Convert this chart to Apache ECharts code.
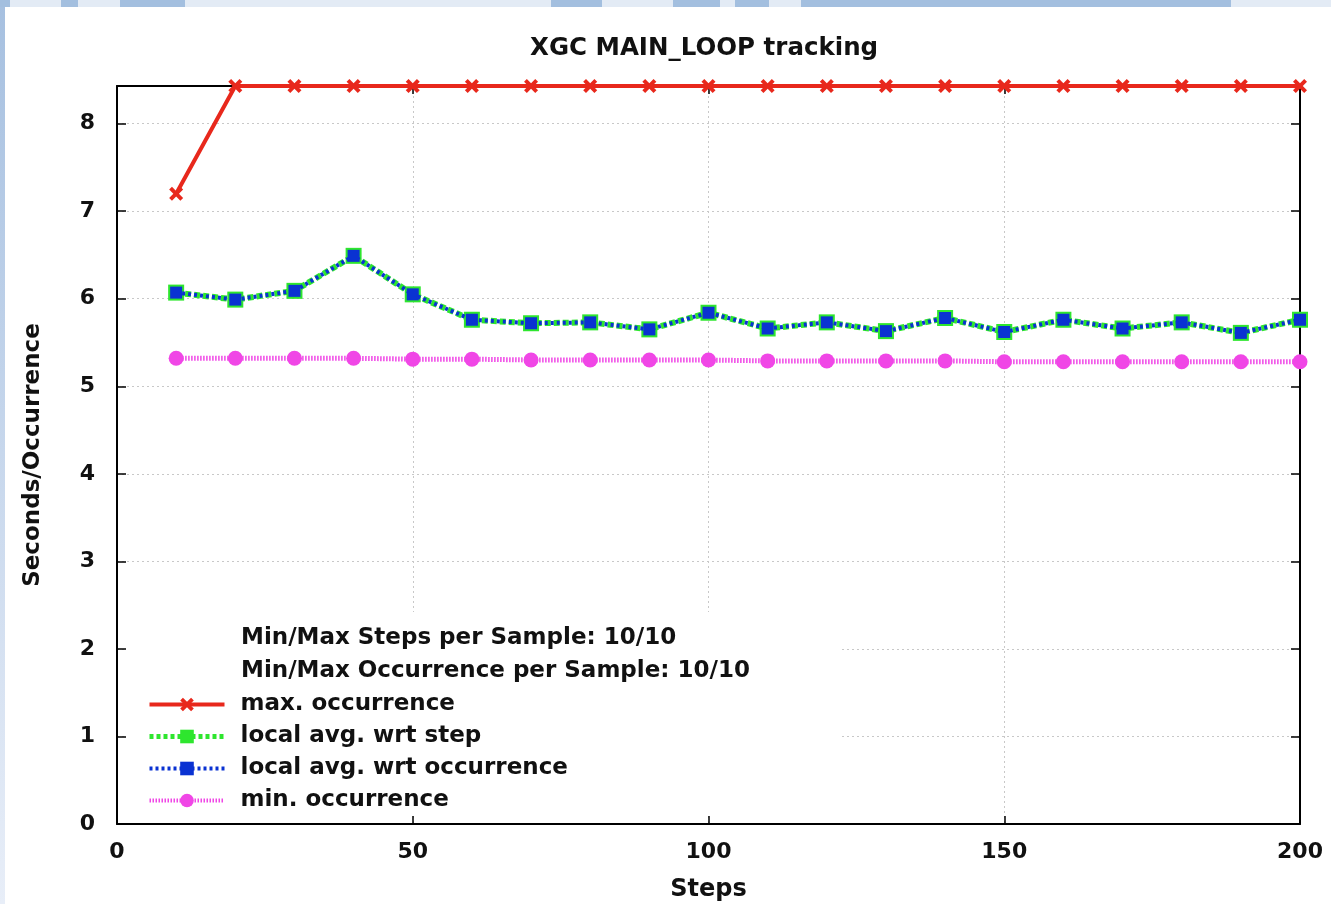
<!DOCTYPE html>
<html>
<head>
<meta charset="utf-8">
<script src="https://cdn.jsdelivr.net/npm/echarts@6/dist/echarts.min.js"></script>
<style>
html,body{margin:0;padding:0;background:#fff;}
#chart{width:1331px;height:904px;}
</style>
</head>
<body>
<div id="chart"></div>
<script>
// ---- data ----
const steps = [10,20,30,40,50,60,70,80,90,100,110,120,130,140,150,160,170,180,190,200];
const maxOcc = [7.20,8.43,8.43,8.43,8.43,8.43,8.43,8.43,8.43,8.43,8.43,8.43,8.43,8.43,8.43,8.43,8.43,8.43,8.43,8.43];
const avgStep = [6.07,5.99,6.09,6.49,6.05,5.76,5.72,5.73,5.65,5.84,5.66,5.73,5.63,5.78,5.62,5.76,5.66,5.73,5.61,5.76];
const avgOcc = [6.07,5.99,6.09,6.49,6.05,5.76,5.72,5.73,5.65,5.84,5.66,5.73,5.63,5.78,5.62,5.76,5.66,5.73,5.61,5.76];
const minOcc = [5.32,5.32,5.32,5.32,5.31,5.31,5.30,5.30,5.30,5.30,5.29,5.29,5.29,5.29,5.28,5.28,5.28,5.28,5.28,5.28];
const seriesNames = ['max. occurrence','local avg. wrt step','local avg. wrt occurrence','min. occurrence'];
const headerLines = ['Min/Max Steps per Sample: 10/10','Min/Max Occurrence per Sample: 10/10'];
const titleText = 'XGC MAIN_LOOP tracking';
const xName = 'Steps';
const yName = 'Seconds/Occurrence';

const pair = (xs, ys) => xs.map((x, i) => [x, ys[i]]);
const FONT = 'DejaVu Sans';
const crossPath = 'path://M2,0 L5,3 L8,0 L10,2 L7,5 L10,8 L8,10 L5,7 L2,10 L0,8 L3,5 L0,2 Z';

const RED = '#e8281c', GREEN = '#2ee62e', BLUE = '#0a32d2', MAG = '#f046e6';

const chart = echarts.init(document.getElementById('chart'), null, {renderer:'canvas'});

const axisLine = {show:true, onZero:false, lineStyle:{color:'#000', width:2}};
const splitLine = {show:true, lineStyle:{color:'#c8c8c8', type:[2,3], width:1}};

const option = {
  backgroundColor:'#fff',
  animation:false,
  title:{
    text:titleText, left:530, top:36, padding:0,
    textStyle:{fontFamily:FONT, fontWeight:'bold', fontSize:24.5, color:'#111'}
  },
  grid:{left:117, right:31, top:86, bottom:80, containLabel:false, outerBoundsMode:'none'},
  xAxis:[{
    type:'value', min:0, max:200, interval:50, position:'bottom',
    name:xName, nameLocation:'middle', nameGap:54,
    nameTextStyle:{fontFamily:FONT, fontWeight:'bold', fontSize:24, color:'#111'},
    axisLine:axisLine,
    axisTick:{show:true, inside:true, length:8, lineStyle:{color:'#000', width:1.5}},
    axisLabel:{fontFamily:FONT, fontWeight:'bold', fontSize:22, color:'#111', margin:17},
    splitLine:splitLine
  },{
    type:'value', min:0, max:200, interval:50, position:'top',
    axisLine:axisLine,
    axisTick:{show:true, inside:true, length:8, lineStyle:{color:'#000', width:1.5}},
    axisLabel:{show:false}, splitLine:{show:false}
  }],
  yAxis:[{
    type:'value', min:0, max:8.43, interval:1, position:'left',
    name:yName, nameLocation:'middle', nameGap:72, nameRotate:90,
    nameTextStyle:{fontFamily:FONT, fontWeight:'bold', fontSize:23, color:'#111'},
    axisLine:axisLine,
    axisTick:{show:true, inside:true, length:9, lineStyle:{color:'#000', width:1.5}},
    axisLabel:{fontFamily:FONT, fontWeight:'bold', fontSize:22, color:'#111', margin:22, showMaxLabel:false},
    splitLine:splitLine
  },{
    type:'value', min:0, max:8.43, interval:1, position:'right',
    axisLine:axisLine,
    axisTick:{show:true, inside:true, length:9, lineStyle:{color:'#000', width:1.5}},
    axisLabel:{show:false}, splitLine:{show:false}
  }],
  legend:{
    orient:'vertical', left:147, top:693, padding:0,
    itemWidth:75, itemHeight:17, itemGap:9,
    data:[
      {name:seriesNames[0], lineStyle:{width:4, color:RED}},
      {name:seriesNames[1], lineStyle:{width:5, color:GREEN, type:[4,3]}},
      {name:seriesNames[2], lineStyle:{width:4, color:BLUE, type:[3,3]}},
      {name:seriesNames[3], lineStyle:{width:4, color:MAG, type:[1.5,1.5]}}
    ],
    textStyle:{fontFamily:FONT, fontWeight:'bold', fontSize:23, color:'#111', padding:[0,0,0,11]}
  },
  graphic:[
    {type:'rect', shape:{x:0,y:0,width:5,height:904}, z:0,
     style:{fill:new echarts.graphic.LinearGradient(0,0,0,1,[{offset:0,color:'#a6c0e0'},{offset:1,color:'#e8eef8'}])}},
    {type:'rect', shape:{x:0,y:0,width:1331,height:7}, z:0, style:{fill:'#e3ebf5'}},
    {type:'rect', shape:{x:0,y:0,width:10,height:7}, z:0, style:{fill:'#a3bfdf'}},
    {type:'rect', shape:{x:61,y:0,width:17,height:7}, z:0, style:{fill:'#a3bfdf'}},
    {type:'rect', shape:{x:120,y:0,width:65,height:7}, z:0, style:{fill:'#a3bfdf'}},
    {type:'rect', shape:{x:551,y:0,width:51,height:7}, z:0, style:{fill:'#a3bfdf'}},
    {type:'rect', shape:{x:673,y:0,width:47,height:7}, z:0, style:{fill:'#a3bfdf'}},
    {type:'rect', shape:{x:735,y:0,width:34,height:7}, z:0, style:{fill:'#a3bfdf'}},
    {type:'rect', shape:{x:801,y:0,width:430,height:7}, z:0, style:{fill:'#a3bfdf'}},
    {type:'rect', shape:{x:127,y:612,width:713,height:202}, z:1, style:{fill:'#fff'}},
    {type:'text', left:241, top:627, z:5,
     style:{text:headerLines[0], fontFamily:FONT, fontWeight:'bold', fontSize:23, fill:'#111'}},
    {type:'text', left:241, top:660, z:5,
     style:{text:headerLines[1], fontFamily:FONT, fontWeight:'bold', fontSize:23, fill:'#111'}}
  ],
  series:[
    {name:seriesNames[0], type:'line', data:pair(steps,maxOcc), clip:false, z:5,
     symbol:crossPath, symbolSize:14,
     lineStyle:{color:RED, width:4, type:'solid'},
     itemStyle:{color:RED}},
    {name:seriesNames[1], type:'line', data:pair(steps,avgStep), clip:false, z:3,
     symbol:'rect', symbolSize:16,
     lineStyle:{color:GREEN, width:6, type:[6,3]},
     itemStyle:{color:GREEN}},
    {name:seriesNames[2], type:'line', data:pair(steps,avgOcc), clip:false, z:4,
     symbol:'rect', symbolSize:12,
     lineStyle:{color:BLUE, width:4, type:[3,3]},
     itemStyle:{color:BLUE}},
    {name:seriesNames[3], type:'line', data:pair(steps,minOcc), clip:false, z:3,
     symbol:'circle', symbolSize:15,
     lineStyle:{color:MAG, width:5, type:[1.5,1.5]},
     itemStyle:{color:MAG}}
  ]
};
chart.setOption(option);
</script>
</body>
</html>
